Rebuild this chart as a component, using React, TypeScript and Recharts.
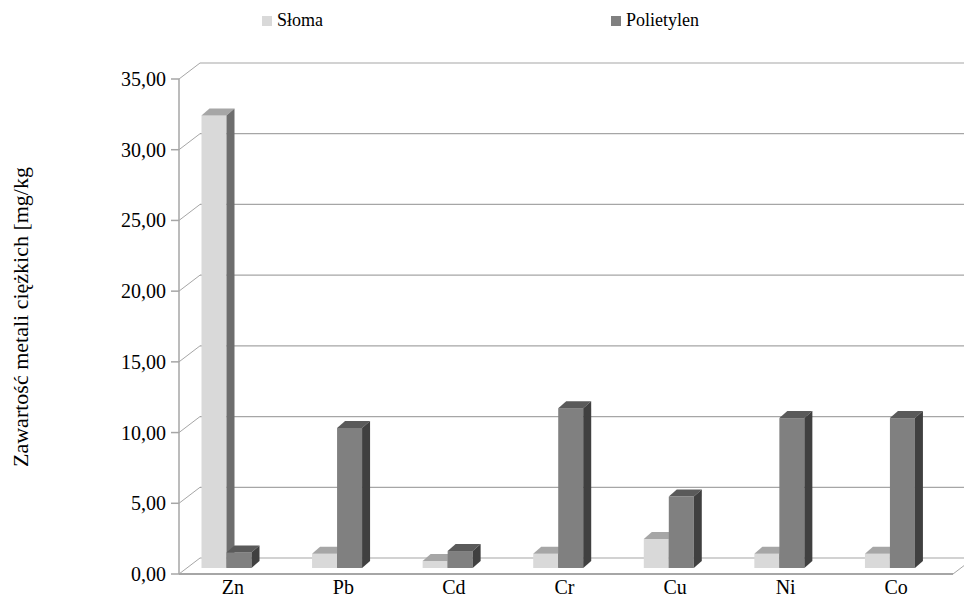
import { BarChart, Bar, XAxis, YAxis, CartesianGrid, Legend } from 'recharts';

const metals = ['Zn', 'Pb', 'Cd', 'Cr', 'Cu', 'Ni', 'Co'];
const sloma = [32.0, 1.0, 0.5, 1.0, 2.05, 1.0, 1.0];
const polietylen = [1.1, 9.9, 1.2, 11.3, 5.05, 10.6, 10.6];
const yTicks = [0, 5, 10, 15, 20, 25, 30, 35];
const seriesNames = ['Słoma', 'Polietylen'];

const data = metals.map((m, i) => ({ name: m, sloma: sloma[i], polietylen: polietylen[i] }));

const FONT = '"Liberation Serif", "Times New Roman", Times, serif';
const GRID = '#a6a6a6';
// back wall offset (perspective depth)
const WX = 21;
const WY = -16;
// bar depth
const BX = 8;
const BY = -7;
// bars sit a little inside the floor
const OX = -7.5;
const OY = -6;

const makeShape = (front: string, top: string, side: string) => (p: any) => {
  const { x, y, width: w, height: h } = p;
  if (w == null || h == null) return null;
  const fx = x + OX;
  const fy = y + OY;
  return (
    <g>
      <rect x={fx} y={fy} width={w} height={h} fill={front} />
      <polygon points={`${fx},${fy} ${fx + BX},${fy + BY} ${fx + w + BX},${fy + BY} ${fx + w},${fy}`} fill={top} />
      <polygon points={`${fx + w},${fy} ${fx + w + BX},${fy + BY} ${fx + w + BX},${fy + h + BY} ${fx + w},${fy + h}`} fill={side} />
    </g>
  );
};

const gridLine = (p: any) => {
  const { x1, y1, x2, index } = p;
  const bottom = p.y != null && p.height != null ? Math.abs(y1 - (p.y + p.height)) < 1 : index === 0;
  return (
    <g key={`gl-${index}`}>
      <line x1={x1} y1={y1} x2={x1 + WX} y2={y1 + WY} stroke={GRID} strokeWidth={1} />
      <line x1={x1 + WX} y1={y1 + WY} x2={x2 + WX + 20} y2={y1 + WY} stroke={GRID} strokeWidth={1.2} />
      {bottom && <line x1={x2} y1={y1} x2={x2 + WX} y2={y1 + WY} stroke={GRID} strokeWidth={1} />}
    </g>
  );
};

const YTick = (p: any) => {
  const { x, y, payload } = p;
  return (
    <g>
      <line x1={x - 8} y1={y} x2={x} y2={y} stroke={GRID} strokeWidth={1.5} />
      <text x={x - 13} y={y} dy={7} textAnchor="end" style={{ fontFamily: FONT, fontSize: 20 }} fill="#000">
        {payload.value.toFixed(2).replace('.', ',')}
      </text>
    </g>
  );
};

const XTick = (p: any) => {
  const { x, payload } = p;
  return (
    <text x={x - 1.5} y={594} textAnchor="middle" style={{ fontFamily: FONT, fontSize: 20 }} fill="#000">
      {payload.value}
    </text>
  );
};

const legendPos = [262, 611];

const LegendContent = (p: any) => {
  const items = p.payload || [];
  return (
    <div style={{ position: 'relative', height: 30, fontFamily: FONT, fontSize: 18, color: '#000' }}>
      {seriesNames.map((name, i) => {
        const it = items.find((d: any) => d.value === name);
        return (
          <div key={name} style={{ position: 'absolute', left: legendPos[i], top: 0, display: 'flex', alignItems: 'center', whiteSpace: 'nowrap' }}>
            <span style={{ display: 'inline-block', width: 10, height: 10, background: it ? it.color : '#999', marginRight: 5 }} />
            <span>{name}</span>
          </div>
        );
      })}
    </div>
  );
};

export default function App() {
  return (
    <div style={{ position: 'absolute', left: 0, top: 0, width: 964, height: 597, background: '#fff', fontFamily: FONT }}>
      <BarChart
        width={964}
        height={597}
        data={data}
        margin={{ top: 79, right: 11, bottom: 0, left: 100 }}
        barSize={25}
        barGap={0}
      >
        <CartesianGrid vertical={false} horizontal={gridLine} />
        <XAxis
          dataKey="name"
          height={23}
          tick={<XTick />}
          tickLine={false}
          axisLine={{ stroke: GRID, strokeWidth: 2 }}
        />
        <YAxis
          width={79}
          domain={[0, 35]}
          ticks={yTicks}
          interval={0}
          tickSize={0}
          tickMargin={0}
          tickLine={false}
          tick={<YTick />}
          axisLine={{ stroke: GRID, strokeWidth: 1.5 }}
          label={() => (
            <text x={28} y={317} transform="rotate(-90, 28, 317)" textAnchor="middle" style={{ fontFamily: FONT, fontSize: 22 }} fill="#000">
              Zawartość metali ciężkich [mg/kg
            </text>
          )}
        />
        <Legend
          verticalAlign="middle"
          layout="horizontal"
          wrapperStyle={{ top: 10, left: 0, width: 964 }}
          content={<LegendContent />}
        />
        <Bar dataKey="sloma" name="Słoma" fill="#d9d9d9" isAnimationActive={false}
          shape={makeShape('#d9d9d9', '#a6a6a6', '#6e6e6e')} />
        <Bar dataKey="polietylen" name="Polietylen" fill="#808080" isAnimationActive={false}
          shape={makeShape('#808080', '#5a5a5a', '#404040')} />
      </BarChart>
    </div>
  );
}
